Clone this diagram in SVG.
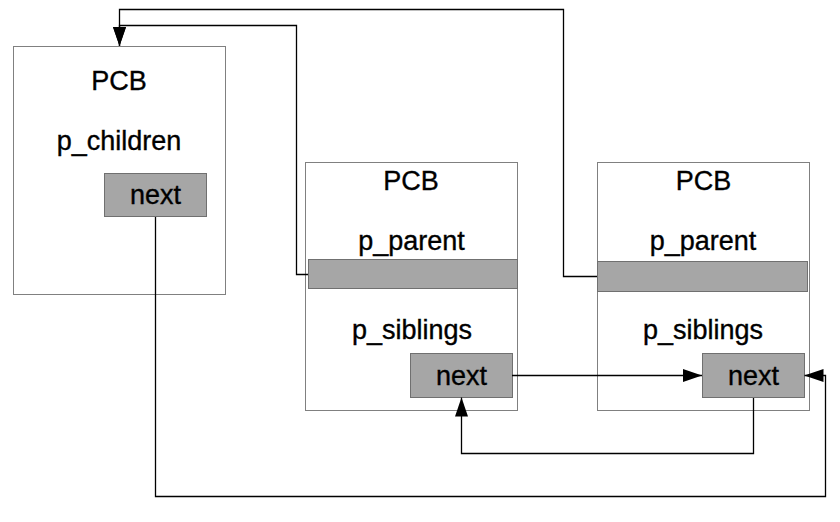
<svg xmlns="http://www.w3.org/2000/svg" width="840" height="522" viewBox="0 0 840 522">
<style>
.box{fill:#ffffff;stroke:#808080;stroke-width:1}
.fld{fill:#a6a6a6;stroke:#707070;stroke-width:1}
.t{font-family:"Liberation Sans",Arial,sans-serif;font-size:27px;fill:#000;stroke:#000;stroke-width:0.35;text-anchor:middle}
.c{fill:none;stroke:#000;stroke-width:1.3}
</style>
<defs>
<marker id="ah" markerWidth="19" markerHeight="14" refX="19" refY="7" orient="auto" markerUnits="userSpaceOnUse">
<path d="M0,0.5 L19,7 L0,13.5 Z" fill="#000"/>
</marker>
</defs>
<rect width="840" height="522" fill="#ffffff"/>
<g id="pcb1">
<rect class="box" x="13.5" y="46.5" width="212" height="248"/>
<text class="t" x="119" y="90">PCB</text>
<text class="t" x="119" y="150">p_children</text>
<rect class="fld" x="104.5" y="173.5" width="102" height="43"/>
<text class="t" x="155.5" y="204">next</text>
</g>
<g id="pcb2">
<rect class="box" x="305.5" y="162.5" width="212" height="248"/>
<text class="t" x="411" y="190">PCB</text>
<text class="t" x="411.5" y="250">p_parent</text>
<rect class="fld" x="308.5" y="259.5" width="209" height="29"/>
<text class="t" x="412" y="339">p_siblings</text>
<rect class="fld" x="410.5" y="353.5" width="102" height="44"/>
<text class="t" x="461.5" y="385">next</text>
</g>
<g id="pcb3">
<rect class="box" x="597.5" y="162.5" width="212" height="248"/>
<text class="t" x="703.5" y="190">PCB</text>
<text class="t" x="703" y="250">p_parent</text>
<rect class="fld" x="597.5" y="261.5" width="210" height="30"/>
<text class="t" x="703" y="339">p_siblings</text>
<rect class="fld" x="702.5" y="353.5" width="102" height="44"/>
<text class="t" x="753.5" y="385">next</text>
</g>
<g id="connectors">
<path class="c" d="M308,274.5 H296.5 V25.5 H119.5 V46" marker-end="url(#ah)"/>
<path class="c" d="M597,276.5 H563.5 V9.5 H119.5 V46" marker-end="url(#ah)"/>
<path class="c" d="M512,375.5 H702" marker-end="url(#ah)"/>
<path class="c" d="M753.5,398 V453.5 H461.5 V397.5" marker-end="url(#ah)"/>
<path class="c" d="M155.5,217 V496.5 H825.5 V375.5 H804.5" marker-end="url(#ah)"/>
</g>
</svg>
